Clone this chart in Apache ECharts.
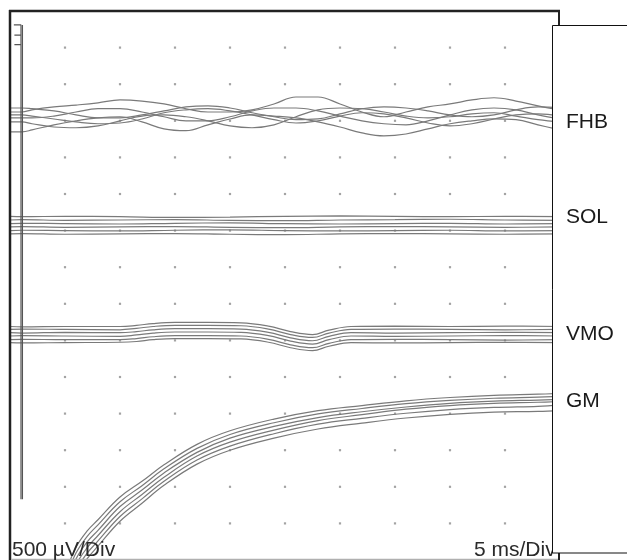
<!DOCTYPE html>
<html><head><meta charset="utf-8">
<script src="https://cdn.jsdelivr.net/npm/echarts@6/dist/echarts.min.js"></script>
<style>html,body{margin:0;padding:0;background:#fff}#c{width:627px;height:560px}</style>
</head><body><div id="c"></div>
<script>
// Axis ticks: 5 ms/Div horizontally, 500 µV/Div vertically
const xTicks = [0, 5, 10, 15, 20, 25, 30, 35, 40, 45, 50];
const yTicks = [0, 500, 1000, 1500, 2000, 2500, 3000, 3500, 4000, 4500, 5000, 5500, 6000, 6500, 7000, 7500];
const channelNames = ['FHB', 'SOL', 'VMO', 'GM'];
const channelOffsets = [6040, 4570, 3080, 0]; // µV baseline of each channel

// FHB (time in ms, deviation in µV)
const fhbTime = [0, 1.1, 2, 4, 6, 8, 10, 12, 14, 16, 18, 20, 22, 24, 26, 28, 30, 32, 34, 36, 38, 40, 42, 44, 46, 48, 50];
const fhb1 = [80, 80, 110, 150, 175, 205, 245, 230, 190, 125, 80, 80, 110, 190, 285, 285, 190, 80, 15, 80, 150, 190, 245, 275, 230, 165, 110];
const fhb2 = [-190, -190, -165, -95, -40, 0, 15, -55, -150, -175, -95, -15, 40, 25, 0, -55, -125, -205, -245, -220, -150, -80, -40, -15, -25, -95, -165];
const fhb3 = [40, 40, 25, -15, -55, -80, -70, -15, 70, 110, 125, 95, 40, -25, -70, -40, 25, 70, 55, 0, -70, -110, -80, -15, 40, 55, 25];
const fhb4 = [0, 0, 0, 25, 80, 125, 125, 80, 15, -40, -40, 15, 95, 135, 135, 95, 25, -40, -80, -95, -40, 40, 110, 135, 110, 40, -15];
const fhb5 = [-55, -55, -80, -125, -135, -110, -40, 25, 40, 15, -40, -110, -135, -95, 15, 110, 135, 125, 80, 25, 0, 15, 55, 70, 25, -25, -55];
const fhb6 = [135, 135, 125, 95, 40, 0, 0, 40, 95, 150, 165, 135, 70, 15, -25, -15, 55, 125, 150, 135, 95, 40, 15, 40, 110, 150, 135];

// SOL
const solTime = [0, 1.1, 5, 10, 15, 20, 25, 30, 35, 40, 45, 50];
const sol1 = [125, 120, 125, 120, 110, 115, 125, 130, 125, 120, 125, 120];
const sol2 = [75, 80, 70, 75, 80, 70, 65, 75, 80, 85, 75, 70];
const sol3 = [25, 30, 25, 20, 30, 35, 25, 20, 25, 30, 20, 25];
const sol4 = [-20, -15, -25, -20, -15, -25, -30, -20, -15, -20, -25, -20];
const sol5 = [-70, -65, -70, -75, -65, -60, -70, -75, -70, -65, -75, -70];
const sol6 = [-115, -110, -120, -115, -110, -120, -125, -115, -110, -115, -120, -115];

// VMO
const vmoTime = [0, 1.1, 5, 10, 11.5, 13, 15, 18, 21, 23.5, 25.5, 27.5, 29, 31, 35, 40, 45, 50];
const vmo1 = [110, 105, 110, 110, 125, 150, 165, 165, 160, 115, 40, 0, 60, 110, 115, 110, 115, 110];
const vmo2 = [70, 75, 70, 65, 85, 110, 125, 125, 120, 75, 0, -40, 20, 70, 75, 70, 65, 70];
const vmo3 = [25, 20, 30, 25, 40, 65, 80, 80, 75, 30, -45, -85, -25, 25, 20, 25, 30, 25];
const vmo4 = [-20, -15, -20, -25, -5, 20, 35, 35, 30, -15, -90, -130, -70, -20, -25, -20, -15, -20];
const vmo5 = [-70, -65, -70, -70, -55, -30, -15, -15, -20, -65, -140, -180, -120, -70, -65, -70, -75, -70];
const vmo6 = [-110, -115, -110, -105, -95, -70, -55, -55, -60, -105, -180, -220, -160, -110, -115, -110, -105, -110];

// GM (absolute µV)
const gmTime = [4, 5, 6, 7, 8, 10, 12, 14, 17, 20, 24, 28, 32, 36, 40, 44, 48, 50];
const gm1 = [-600, -190, 175, 395, 550, 860, 1075, 1300, 1580, 1765, 1925, 2040, 2110, 2175, 2220, 2250, 2265, 2275];
const gm2 = [-680, -270, 95, 320, 480, 795, 1015, 1245, 1525, 1715, 1875, 1995, 2070, 2135, 2180, 2210, 2225, 2235];
const gm3 = [-765, -355, 15, 245, 405, 730, 955, 1190, 1470, 1665, 1825, 1945, 2025, 2090, 2140, 2170, 2185, 2195];
const gm4 = [-845, -435, -65, 165, 335, 660, 895, 1130, 1420, 1610, 1775, 1905, 1985, 2060, 2110, 2140, 2155, 2165];
const gm5 = [-930, -520, -145, 90, 260, 595, 835, 1075, 1365, 1555, 1725, 1855, 1935, 2005, 2055, 2085, 2100, 2115];
const gm6 = [-1010, -600, -225, 15, 190, 530, 775, 1020, 1310, 1500, 1665, 1790, 1870, 1940, 1990, 2020, 2030, 2045];

// Stimulus artifact
const stimA = [[0.35, 7310], [1.0, 7310], [1.0, 830]];
const stimB = [[1.13, 7310], [1.13, 830]];
const stimC = [[0.4, 7170], [1.0, 7170]];
const stimD = [[0.4, 7040], [1.0, 7040]];

const traceColor = '#7a7a7a';
function trace(times, offset, vals) {
  return {
    type: 'line', data: times.map((t, i) => [t, offset + vals[i]]),
    smooth: 0.4, symbol: 'none', silent: true,
    lineStyle: { color: traceColor, width: 1.2 }, z: 3
  };
}
function stim(d) {
  return { type: 'line', data: d, symbol: 'none', silent: true,
    lineStyle: { color: '#555', width: 1.2 }, z: 4 };
}

const series = [];
// grid dots at interior tick intersections
const dots = [];
xTicks.slice(1, -1).forEach(x => yTicks.slice(1, -1).forEach(y => dots.push([x, y])));
series.push({ type: 'scatter', data: dots, symbol: 'rect', symbolSize: 2.2, silent: true,
  itemStyle: { color: '#8c8c8c' }, z: 2 });

[fhb1, fhb2, fhb3, fhb4, fhb5, fhb6].forEach(v => series.push(trace(fhbTime, channelOffsets[0], v)));
[sol1, sol2, sol3, sol4, sol5, sol6].forEach(v => series.push(trace(solTime, channelOffsets[1], v)));
[vmo1, vmo2, vmo3, vmo4, vmo5, vmo6].forEach(v => series.push(trace(vmoTime, channelOffsets[2], v)));
[gm1, gm2, gm3, gm4, gm5, gm6].forEach(v => series.push(trace(gmTime, channelOffsets[3], v)));
[stimA, stimB, stimC, stimD].forEach(d => series.push(stim(d)));

const font = '"Liberation Sans", Arial, sans-serif';
const labelY = [122, 217, 334, 401];
const graphic = [
  { type: 'line', shape: { x1: 10, y1: 10, x2: 10, y2: 560 }, style: { stroke: '#222', lineWidth: 2.5 }, z: 100 },
  { type: 'line', shape: { x1: 9, y1: 11, x2: 560, y2: 11 }, style: { stroke: '#222', lineWidth: 2.5 }, z: 100 },
  { type: 'line', shape: { x1: 559, y1: 10, x2: 559, y2: 560 }, style: { stroke: '#222', lineWidth: 2 }, z: 100 },
  { type: 'line', shape: { x1: 11, y1: 559.5, x2: 558, y2: 559.5 }, style: { stroke: '#b0b0b0', lineWidth: 1.5 }, z: 100 },
  { type: 'text', x: 12, y: 550, z: 105, style: { text: '500 µV/Div', fill: '#2a2a2a', fontSize: 21, fontFamily: font, verticalAlign: 'middle' } },
  { type: 'text', x: 474, y: 550, z: 105, style: { text: '5 ms/Div', fill: '#2a2a2a', fontSize: 21, fontFamily: font, verticalAlign: 'middle' } },
  { type: 'rect', shape: { x: 552.5, y: 25.5, width: 80, height: 527.5 }, style: { fill: '#fff', stroke: '#111', lineWidth: 1 }, z: 110 }
];
channelNames.forEach((n, i) => graphic.push({ type: 'text', x: 566, y: labelY[i], z: 111,
  style: { text: n, fill: '#1a1a1a', fontSize: 21, fontFamily: font, verticalAlign: 'middle' } }));

const chart = echarts.init(document.getElementById('c'), null, { renderer: 'canvas' });
chart.setOption({
  animation: false,
  backgroundColor: '#fff',
  grid: { left: 10, top: 11, width: 550, height: 550 },
  xAxis: { type: 'value', min: 0, max: 50, interval: 5, axisLine: { show: false }, axisTick: { show: false },
    axisLabel: { show: false }, splitLine: { show: false } },
  yAxis: { type: 'value', min: 0, max: 7500, interval: 500, axisLine: { show: false }, axisTick: { show: false },
    axisLabel: { show: false }, splitLine: { show: false } },
  series: series,
  graphic: graphic
});
</script></body></html>
